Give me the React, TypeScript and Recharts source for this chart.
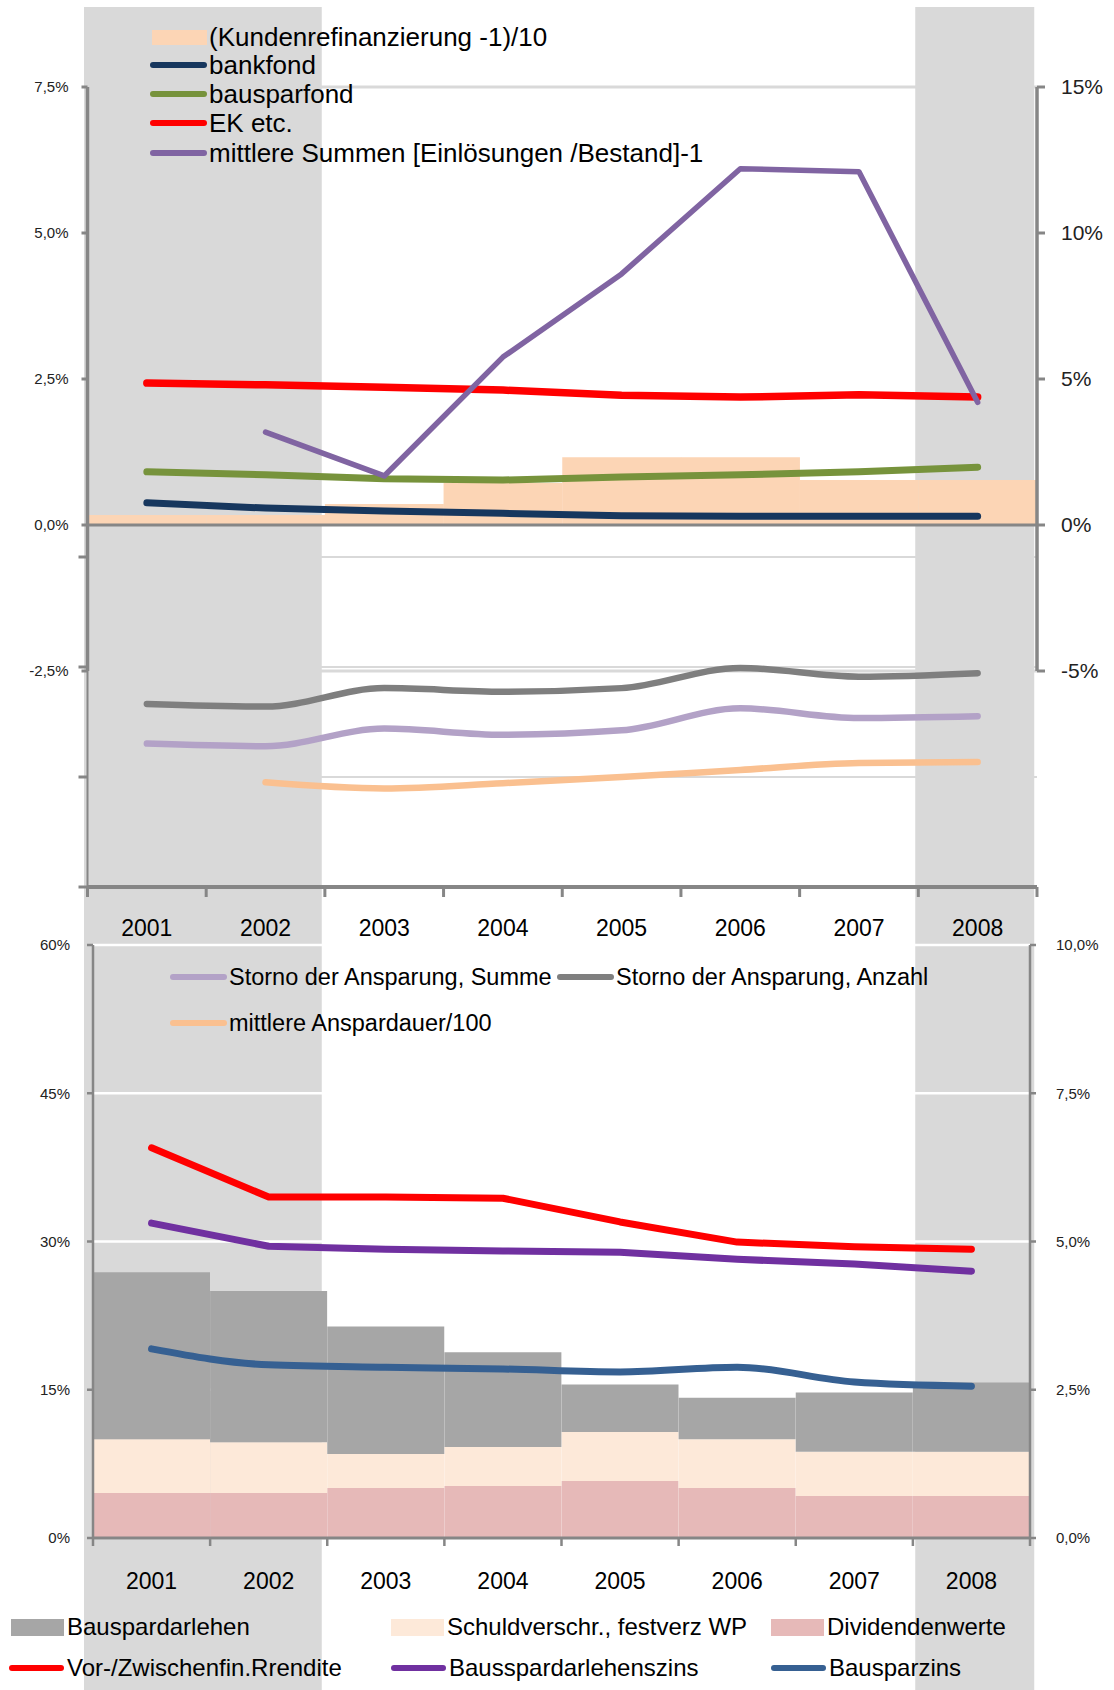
import React from 'react';
import {
  ComposedChart,
  Bar,
  Line,
  XAxis,
  YAxis,
  CartesianGrid,
  ReferenceLine,
} from 'recharts';

// ---------------- data ----------------
const years = ['2001', '2002', '2003', '2004', '2005', '2006', '2007', '2008'];
const shadedYears = ['2001', '2002', '2008'];

// upper panel, left axis (%)
const kundenrefinanzierung = [0.17, 0.17, 0.36, 0.72, 1.16, 1.16, 0.77, 0.77];
const bankfond = [0.38, 0.29, 0.24, 0.2, 0.16, 0.15, 0.15, 0.15];
const bausparfond = [0.91, 0.86, 0.79, 0.77, 0.82, 0.86, 0.91, 0.99];
const ekEtc = [2.43, 2.4, 2.36, 2.31, 2.22, 2.19, 2.23, 2.19];
// upper panel, right axis (%)
const mittlereSummen = [null, 3.18, 1.68, 5.75, 8.6, 12.2, 12.1, 4.2];

// middle panel (Storno), unlabelled axis
const stornoAnzahl = [-2.92, -2.95, -2.74, -2.78, -2.74, -2.51, -2.61, -2.57];
const stornoSumme = [-3.37, -3.4, -3.2, -3.27, -3.22, -2.97, -3.08, -3.06];
const anspardauer = [null, -3.81, -3.88, -3.82, -3.75, -3.67, -3.59, -3.58];

// lower panel, left axis (%), stacked
const dividendenwerte = [4.55, 4.55, 5.05, 5.26, 5.76, 5.05, 4.25, 4.25];
const schuldverschr = [5.45, 5.15, 3.44, 3.94, 4.96, 4.95, 4.48, 4.48];
const bauspardarlehen = [16.9, 15.3, 12.9, 9.6, 4.8, 4.2, 6.0, 7.0];
// lower panel, right axis (%)
const vorZwischenfinRendite = [6.58, 5.75, 5.75, 5.73, 5.33, 4.99, 4.91, 4.87];
const bauspardarlehenszins = [5.31, 4.92, 4.87, 4.84, 4.82, 4.7, 4.62, 4.5];
const bausparzins = [3.19, 2.92, 2.88, 2.85, 2.8, 2.88, 2.63, 2.56];

// ticks
const topLeftTicks = [-2.5, 0, 2.5, 5, 7.5];
const topRightTicks = [-5, 0, 5, 10, 15];
const midTicks = [-5, -3.75, -2.5, -1.25];
const botLeftTicks = [0, 15, 30, 45, 60];
const botRightTicks = [0, 2.5, 5, 7.5, 10];

// series config
const topSeries = [
  { key: 'kunden', name: '(Kundenrefinanzierung -1)/10', color: '#fcd5b5', kind: 'box', width: 0 },
  { key: 'bankfond', name: 'bankfond', color: '#17375e', kind: 'line', width: 7 },
  { key: 'bausparfond', name: 'bausparfond', color: '#77933c', kind: 'line', width: 7 },
  { key: 'ek', name: 'EK etc.', color: '#ff0000', kind: 'line', width: 7.5 },
  { key: 'summen', name: 'mittlere Summen [Einlösungen /Bestand]-1', color: '#8064a2', kind: 'line', width: 5.5 },
];
const midSeries = [
  { key: 'summe', name: 'Storno der Ansparung, Summe', color: '#b3a2c7' },
  { key: 'anzahl', name: 'Storno der Ansparung, Anzahl', color: '#7f7f7f' },
  { key: 'dauer', name: 'mittlere Anspardauer/100', color: '#fac090' },
];
const botSeries = [
  { key: 'bauspar', name: 'Bauspardarlehen', color: '#a6a6a6', kind: 'box' },
  { key: 'schuld', name: 'Schuldverschr., festverz WP', color: '#fde9d9', kind: 'box' },
  { key: 'divid', name: 'Dividendenwerte', color: '#e6b9b8', kind: 'box' },
  { key: 'rendite', name: 'Vor-/Zwischenfin.Rrendite', color: '#ff0000', kind: 'line' },
  { key: 'bdzins', name: 'Bausspardarlehenszins', color: '#7030a0', kind: 'line' },
  { key: 'bzins', name: 'Bausparzins', color: '#366092', kind: 'line' },
];

const topData = years.map((year, i) => ({
  year,
  kunden: kundenrefinanzierung[i],
  bankfond: bankfond[i],
  bausparfond: bausparfond[i],
  ek: ekEtc[i],
  summen: mittlereSummen[i],
}));
const midData = years.map((year, i) => ({
  year,
  anzahl: stornoAnzahl[i],
  summe: stornoSumme[i],
  dauer: anspardauer[i],
}));
const botData = years.map((year, i) => ({
  year,
  divid: dividendenwerte[i],
  schuld: schuldverschr[i],
  bauspar: bauspardarlehen[i],
  rendite: vorZwischenfinRendite[i],
  bdzins: bauspardarlehenszins[i],
  bzins: bausparzins[i],
}));
const bandData = years.map((year) => ({ year, shade: shadedYears.includes(year) ? 1 : 0 }));

// ---------------- layout / style ----------------
const W = 1114;
const H = 1690;
const FONT = '"Liberation Sans", Arial, Helvetica, sans-serif';
const AXIS = '#868686';
const BAND = '#d9d9d9';

const TOP_H = 700;
const TOP_MARGIN = { top: 87, right: 0, bottom: 29, left: 0 };
const TOP_LW = 87.5;
const TOP_RW = 77;

const MID_H = 960;
const MID_XH = 60;
const MID_MARGIN = { top: 557, right: TOP_RW, bottom: 13, left: 0 };

const BOT_H = H;
const BOT_XH = 60;
const BOT_MARGIN = { top: 945, right: 0, bottom: 92, left: 0 };
const BOT_LW = 93;
const BOT_RW = 84;

const commaPct = (v: number) => `${v.toFixed(1).replace('.', ',')}%`;
const intPct = (v: number) => `${v}%`;

const layer: React.CSSProperties = { position: 'absolute', left: 0, top: 0 };

function makeYearTick(step: number, labelDy: number, tickLen: number, tickW: number, visible: boolean) {
  return (props: any) => {
    const { x, y, payload, index, visibleTicksCount } = props;
    if (!visible) return <g />;
    const last = index === visibleTicksCount - 1;
    return (
      <g>
        <line x1={x - step / 2} x2={x - step / 2} y1={y} y2={y + tickLen} stroke={AXIS} strokeWidth={tickW} />
        {last && (
          <line x1={x + step / 2} x2={x + step / 2} y1={y} y2={y + tickLen} stroke={AXIS} strokeWidth={tickW} />
        )}
        <text
          x={x}
          y={y + labelDy}
          textAnchor="middle"
          dominantBaseline="central"
          fontFamily={FONT}
          fontSize={23}
          fill="#000"
        >
          {payload.value}
        </text>
      </g>
    );
  };
}

const midStep = (W - TOP_LW - TOP_RW) / years.length;
const botStep = (W - BOT_LW - BOT_RW) / years.length;

// ---------------- charts ----------------
function TopChart({ gridOnly }: { gridOnly: boolean }) {
  return (
    <ComposedChart width={W} height={TOP_H} data={topData} margin={TOP_MARGIN} barCategoryGap={0} barGap={0}>
      <XAxis dataKey="year" hide scale="band" />
      <YAxis
        yAxisId="left"
        orientation="left"
        width={TOP_LW}
        type="number"
        domain={[-2.5, 7.5]}
        ticks={topLeftTicks}
        interval={0}
        tickFormatter={commaPct}
        axisLine={gridOnly ? false : { stroke: AXIS, strokeWidth: 3.5 }}
        tickLine={gridOnly ? false : { stroke: AXIS, strokeWidth: 3 }}
        tickSize={6}
        tickMargin={13}
        tick={gridOnly ? false : { fontFamily: FONT, fontSize: 15, fill: '#222' }}
      />
      <YAxis
        yAxisId="right"
        orientation="right"
        width={TOP_RW}
        type="number"
        domain={[-5, 15]}
        ticks={topRightTicks}
        interval={0}
        tickFormatter={intPct}
        axisLine={gridOnly ? false : { stroke: AXIS, strokeWidth: 3.5 }}
        tickLine={gridOnly ? false : { stroke: AXIS, strokeWidth: 3 }}
        tickSize={8}
        tickMargin={16}
        tick={gridOnly ? false : { fontFamily: FONT, fontSize: 21, fill: '#222' }}
      />
      {gridOnly && <CartesianGrid yAxisId="left" vertical={false} stroke={BAND} strokeWidth={3} />}
      {!gridOnly && (
        <Bar yAxisId="left" dataKey="kunden" name={topSeries[0].name} fill={topSeries[0].color} isAnimationActive={false} />
      )}
      {!gridOnly && <ReferenceLine yAxisId="left" y={0} stroke={AXIS} strokeWidth={3} ifOverflow="visible" />}
      {!gridOnly &&
        topSeries.slice(1).map((s) => (
          <Line
            key={s.key}
            yAxisId={s.key === 'summen' ? 'right' : 'left'}
            dataKey={s.key}
            name={s.name}
            type="linear"
            stroke={s.color}
            strokeWidth={s.width}
            strokeLinecap="round"
            strokeLinejoin="round"
            dot={false}
            activeDot={false}
            isAnimationActive={false}
          />
        ))}
    </ComposedChart>
  );
}

function MidChart({ gridOnly }: { gridOnly: boolean }) {
  const axisStroke = gridOnly ? 'none' : AXIS;
  return (
    <ComposedChart width={W} height={MID_H} data={midData} margin={MID_MARGIN}>
      <XAxis
        dataKey="year"
        scale="band"
        height={MID_XH}
        interval={0}
        tickSize={0}
        tickMargin={0}
        tickLine={false}
        axisLine={{ stroke: axisStroke, strokeWidth: 4 }}
        tick={makeYearTick(midStep, 41, 10, 3, !gridOnly)}
      />
      <YAxis
        yAxisId="left"
        width={TOP_LW}
        type="number"
        domain={[-5, -1.25]}
        ticks={midTicks}
        interval={0}
        tickFormatter={() => ''}
        axisLine={{ stroke: axisStroke, strokeWidth: 2 }}
        tickLine={{ stroke: axisStroke, strokeWidth: 3 }}
        tickSize={9}
        tick={{ fontSize: 1, fill: 'none' }}
      />
      {gridOnly && <CartesianGrid yAxisId="left" vertical={false} stroke={BAND} strokeWidth={2} />}
      {midSeries.map((s) => (
        <Line
          key={s.key}
          yAxisId="left"
          dataKey={s.key}
          name={s.name}
          type="monotone"
          stroke={gridOnly ? 'none' : s.color}
          strokeWidth={6.5}
          strokeLinecap="round"
          strokeLinejoin="round"
          dot={false}
          activeDot={false}
          isAnimationActive={false}
        />
      ))}
    </ComposedChart>
  );
}

function BandChart() {
  return (
    <ComposedChart
      width={W}
      height={H}
      data={bandData}
      margin={{ top: 7, right: 80, bottom: 0, left: 84 }}
      barCategoryGap={0}
      barGap={0}
    >
      <XAxis dataKey="year" hide />
      <YAxis hide type="number" domain={[0, 1]} />
      <Bar dataKey="shade" fill={BAND} isAnimationActive={false} />
    </ComposedChart>
  );
}

function BottomChart() {
  const boxes = botSeries.filter((s) => s.kind === 'box').slice().reverse();
  const lines = botSeries.filter((s) => s.kind === 'line');
  return (
    <ComposedChart width={W} height={BOT_H} data={botData} margin={BOT_MARGIN} barCategoryGap={0} barGap={0}>
      <XAxis
        dataKey="year"
        height={BOT_XH}
        interval={0}
        tickSize={0}
        tickMargin={0}
        tickLine={false}
        axisLine={{ stroke: AXIS, strokeWidth: 3 }}
        tick={makeYearTick(botStep, 43, 8, 2.5, true)}
      />
      <YAxis
        yAxisId="left"
        orientation="left"
        width={BOT_LW}
        type="number"
        domain={[0, 60]}
        ticks={botLeftTicks}
        interval={0}
        tickFormatter={intPct}
        axisLine={{ stroke: AXIS, strokeWidth: 2.5 }}
        tickLine={{ stroke: AXIS, strokeWidth: 2.5 }}
        tickSize={6}
        tickMargin={17}
        tick={{ fontFamily: FONT, fontSize: 15, fill: '#222' }}
      />
      <YAxis
        yAxisId="right"
        orientation="right"
        width={BOT_RW}
        type="number"
        domain={[0, 10]}
        ticks={botRightTicks}
        interval={0}
        tickFormatter={commaPct}
        axisLine={{ stroke: AXIS, strokeWidth: 2.5 }}
        tickLine={{ stroke: AXIS, strokeWidth: 2.5 }}
        tickSize={6}
        tickMargin={20}
        tick={{ fontFamily: FONT, fontSize: 15, fill: '#222' }}
      />
      <CartesianGrid yAxisId="left" vertical={false} stroke="#ffffff" strokeWidth={2.5} />
      {boxes.map((s) => (
        <Bar key={s.key} yAxisId="left" stackId="s" dataKey={s.key} name={s.name} fill={s.color} isAnimationActive={false} />
      ))}
      {lines.map((s) => (
        <Line
          key={s.key}
          yAxisId="right"
          dataKey={s.key}
          name={s.name}
          type={s.key === 'bzins' ? 'monotone' : 'linear'}
          stroke={s.color}
          strokeWidth={7}
          strokeLinecap="round"
          strokeLinejoin="round"
          dot={false}
          activeDot={false}
          isAnimationActive={false}
        />
      ))}
    </ComposedChart>
  );
}

// ---------------- legends ----------------
function Swatch({ kind, color, w, h }: { kind: string; color: string; w: number; h: number }) {
  if (kind === 'box') return <div style={{ width: w, height: h, background: color, flex: 'none' }} />;
  return <div style={{ width: w, height: 6, background: color, borderRadius: 3, flex: 'none' }} />;
}

function LegendItem({
  x,
  cy,
  kind,
  color,
  label,
  fontSize,
  sw,
  sh,
  gap,
}: {
  x: number;
  cy: number;
  kind: string;
  color: string;
  label: string;
  fontSize: number;
  sw: number;
  sh: number;
  gap: number;
}) {
  const lh = 32;
  return (
    <div
      style={{
        position: 'absolute',
        left: x,
        top: cy - lh / 2,
        height: lh,
        display: 'flex',
        alignItems: 'center',
        whiteSpace: 'nowrap',
        fontFamily: FONT,
        fontSize,
        color: '#000',
      }}
    >
      <Swatch kind={kind} color={color} w={sw} h={sh} />
      <span style={{ marginLeft: gap }}>{label}</span>
    </div>
  );
}

const topLegendRows = [37, 65, 94, 123, 153];
const midLegendPos = [
  { x: 170, cy: 977 },
  { x: 557, cy: 977 },
  { x: 170, cy: 1023 },
];
const botLegendPos = [
  { x: 11, cy: 1627 },
  { x: 391, cy: 1627 },
  { x: 771, cy: 1627 },
  { x: 9, cy: 1668 },
  { x: 391, cy: 1668 },
  { x: 771, cy: 1668 },
];

export default function App() {
  return (
    <div style={{ position: 'absolute', left: 0, top: 0, width: W, height: H, background: '#fff', overflow: 'hidden' }}>
      <div style={layer}>
        <TopChart gridOnly />
      </div>
      <div style={layer}>
        <MidChart gridOnly />
      </div>
      <div style={layer}>
        <BandChart />
      </div>
      <div style={layer}>
        <TopChart gridOnly={false} />
      </div>
      <div style={layer}>
        <MidChart gridOnly={false} />
      </div>
      <div style={layer}>
        <BottomChart />
      </div>
      {topSeries.map((s, i) => (
        <LegendItem
          key={s.key}
          x={s.kind === 'box' ? 152 : 150}
          cy={topLegendRows[i]}
          kind={s.kind}
          color={s.color}
          label={s.name}
          fontSize={26}
          sw={s.kind === 'box' ? 55 : 57}
          sh={15}
          gap={2}
        />
      ))}
      {midSeries.map((s, i) => (
        <LegendItem
          key={s.key}
          x={midLegendPos[i].x}
          cy={midLegendPos[i].cy}
          kind="line"
          color={s.color}
          label={s.name}
          fontSize={23.5}
          sw={57}
          sh={6}
          gap={2}
        />
      ))}
      {botSeries.map((s, i) => (
        <LegendItem
          key={s.key}
          x={botLegendPos[i].x}
          cy={botLegendPos[i].cy}
          kind={s.kind}
          color={s.color}
          label={s.name}
          fontSize={24}
          sw={s.kind === 'box' ? 53 : 55}
          sh={17}
          gap={3}
        />
      ))}
    </div>
  );
}
